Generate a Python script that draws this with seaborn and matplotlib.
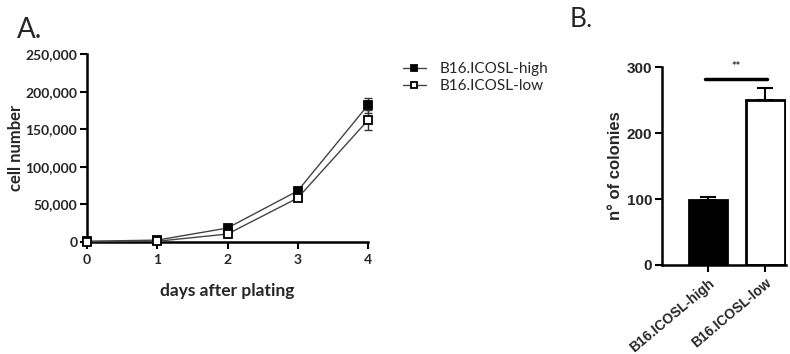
import matplotlib
matplotlib.use("Agg")
import matplotlib.pyplot as plt
import seaborn as sns
import pandas as pd
import numpy as np

# ---- data ----
days = [0, 1, 2, 3, 4]
high_vals = [1000, 2500, 18600, 68000, 182000]
high_err = [300, 500, 1500, 3000, 10000]
low_vals = [500, 1000, 10600, 58500, 162000]
low_err = [300, 400, 1500, 3000, 13000]
series_names = ["B16.ICOSL-high", "B16.ICOSL-low"]

bar_cats = ["B16.ICOSL-high", "B16.ICOSL-low"]
bar_vals = [98, 250]
bar_err = [5, 18]

y_ticks_a = [0, 50000, 100000, 150000, 200000, 250000]
y_ticks_b = [0, 100, 200, 300]

sns.set_theme(style="ticks")
plt.rcParams['font.family'] = ['Lato', 'DejaVu Sans']

fig = plt.figure(figsize=(7.9, 3.54), dpi=100)

# ---- Panel A ----
axA = fig.add_axes([87/790, 1-242/354, (368-87)/790, (242-54)/354])
df = pd.DataFrame({
    "day": days * 2,
    "cells": high_vals + low_vals,
    "err": high_err + low_err,
    "line": [series_names[0]] * 5 + [series_names[1]] * 5,
})
for name, fc in zip(series_names, ["black", "white"]):
    sub = df[df["line"] == name]
    axA.errorbar(sub["day"], sub["cells"], yerr=sub["err"], fmt="none",
                 ecolor="#333333", elinewidth=1, capsize=3, clip_on=False, zorder=2)
    sns.lineplot(data=sub, x="day", y="cells", ax=axA, color="#444444", lw=1,
                 marker="s", markersize=6, markerfacecolor=fc,
                 markeredgecolor="black", markeredgewidth=1.3,
                 label=name, clip_on=False, zorder=3)

axA.set_xlim(0, 4)
axA.set_ylim(0, 250000)
axA.set_xticks(days)
axA.set_yticks(y_ticks_a)
axA.set_yticklabels([f"{v:,}" for v in y_ticks_a])
for lab in axA.get_xticklabels() + axA.get_yticklabels():
    lab.set_fontweight("bold")
    lab.set_fontsize(10)
axA.tick_params(axis="both", width=1.5, length=5, color="black", pad=2)
axA.tick_params(axis="x", pad=4)
for s in ["left", "bottom"]:
    axA.spines[s].set_linewidth(1.8)
    axA.spines[s].set_color("black")
sns.despine(ax=axA)
axA.set_xlabel("days after plating", fontweight="bold", fontsize=12.5, labelpad=12)
axA.set_ylabel("cell number", fontweight="bold", fontsize=12, labelpad=1)
leg = axA.legend(loc="upper left", bbox_to_anchor=(1.075, 1.03), frameon=False,
                 fontsize=11, handlelength=1.5, handletextpad=0.9, labelspacing=0.2,
                 markerscale=0.8)

fig.text(17/790, 1-38/354, "A.", fontsize=20, ha="left", va="baseline")
fig.text(570/790, 1-27/354, "B.", fontsize=19, ha="left", va="baseline")

# ---- Panel B ----
axB = fig.add_axes([662/790, 1-265/354, (786-662)/790, (265-67)/354])
dfb = pd.DataFrame({"cat": bar_cats, "val": bar_vals, "err": bar_err})
sns.barplot(data=dfb, x="cat", y="val", hue="cat", palette=["black", "white"],
            edgecolor="black", linewidth=2, width=0.67, ax=axB, legend=False,
            errorbar=None)
axB.errorbar([0, 1], bar_vals, yerr=[[0, 0], bar_err], fmt="none",
             ecolor="black", elinewidth=1.5, capsize=6, capthick=1.5, zorder=5)
axB.set_xlim(-0.81, 1.36)
axB.set_ylim(0, 300)
axB.set_yticks(y_ticks_b)
axB.set_xlabel("")
axB.set_ylabel("n° of colonies", fontweight="bold", fontsize=12,
               family=["Liberation Sans"], labelpad=3)
for lab in axB.get_yticklabels():
    lab.set_fontweight("bold")
    lab.set_fontsize(11)
    lab.set_family(["Liberation Sans"])
axB.set_xticks([0, 1])
axB.set_xticklabels(bar_cats, rotation=40, ha="right", rotation_mode="anchor",
                    fontweight="bold", fontsize=10, family=["Liberation Sans"])
axB.tick_params(axis="both", width=1.5, length=5, color="black", pad=2)
axB.tick_params(axis="x", pad=3)
for s in ["left", "bottom"]:
    axB.spines[s].set_linewidth(1.8)
    axB.spines[s].set_color("black")
sns.despine(ax=axB)
axB.plot([-0.05, 1.02], [282, 282], color="black", lw=2.5, clip_on=False)
axB.text(0.48, 292, "**", ha="center", va="bottom", fontsize=8, fontweight="bold")

fig.savefig("out.png", dpi=100, facecolor="white")
